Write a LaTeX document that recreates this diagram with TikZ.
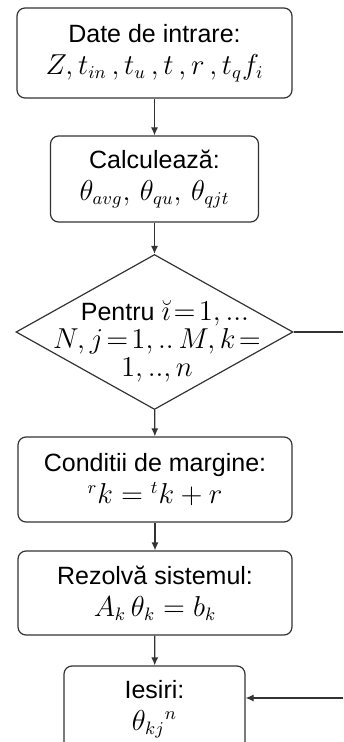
\documentclass[tikz,border=0pt]{standalone}
\usepackage{amsmath}
\usepackage[no-math]{fontspec}
\setmainfont{Liberation Sans}
\DeclareMathSizes{12.5}{13.5}{9.5}{7}
\usetikzlibrary{arrows.meta,shapes.geometric,positioning}

\begin{document}
\begin{tikzpicture}[x=0.5pt, y=-0.5pt, font=\fontsize{12.5}{16}\selectfont,
    box/.style={draw=black!80, line width=0.6pt, rounded corners=4pt, align=center, inner sep=0pt},
    arr/.style={-{Latex[length=4pt,width=3.5pt]}, draw=black!80, line width=0.6pt}]
    \useasboundingbox (0,0) rectangle (343,742);
    \node[box, minimum width=137.5pt, minimum height=45pt] (in) at (154.5,53) {Date de intrare:\\ $Z, t_{in}\,, t_u\,, t\,, r\,, t_q f_i$};
    \node[box, minimum width=104pt, minimum height=43pt] (calc) at (154.5,179) {Calculează:\\ $\theta_{avg},\,\theta_{qu},\,\theta_{qjt}$};
    \node[draw=black!80, line width=0.6pt, diamond, minimum width=138.5pt, minimum height=77.5pt, inner sep=0pt] (loop) at (154.5,332) {};
    \node[align=center, font=\fontsize{12.5}{14}\selectfont] (looptxt) at (157,341) {\hspace*{8pt}Pentru $\breve{\imath}\!=\!1,...$\\ $N, j\!=\!1,..\,M, k\!=$\\ $1,..,n$};
    \node[box, minimum width=137pt, minimum height=42.5pt] (bc) at (155,479.5) {Conditii de margine:\\ ${}^{r}k={}^{t}k+r$};
    \node[box, minimum width=137pt, minimum height=42pt] (solve) at (155,593) {Rezolvă sistemul:\\ $A_k\,\theta_k=b_k$};
    \node[box, minimum width=90.5pt, minimum height=43pt] (out) at (154.5,709) {Iesiri:\\ $\theta_{kj}{}^{n}$};
    \coordinate (rout) at (343,332);
    \coordinate (rin) at (343,698);
    \draw[arr] (in) -- (calc);
    \draw[arr] (calc) -- (loop);
    \draw[arr] (loop) -- (bc);
    \draw[arr] (bc) -- (solve);
    \draw[arr] (solve) -- (out);
    \draw[draw=black!80, line width=0.6pt] (loop.east) -- (rout);
    \draw[arr] (rin) -- (rin -| out.east);
\end{tikzpicture}
\end{document}
